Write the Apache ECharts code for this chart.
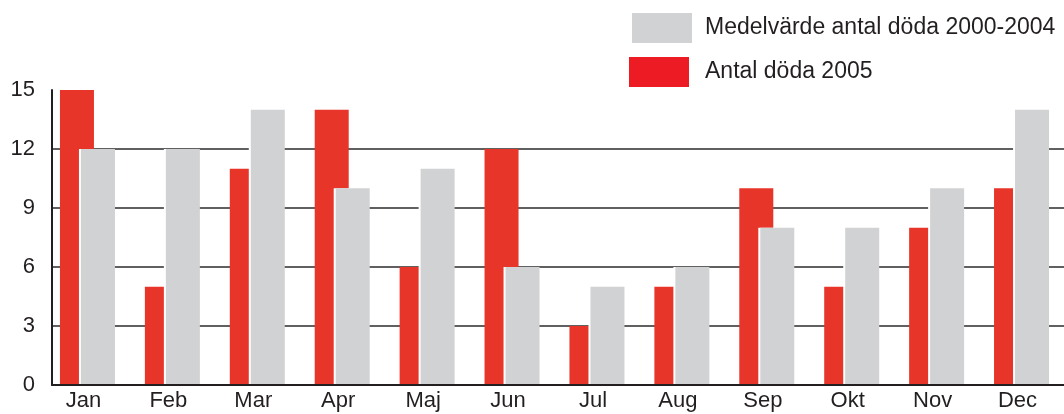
<!DOCTYPE html>
<html>
<head>
<meta charset="utf-8">
<script src="https://cdn.jsdelivr.net/npm/echarts@6/dist/echarts.min.js"></script>
<style>
  html, body { margin: 0; padding: 0; background: #fff; }
  #main { width: 1064px; height: 414px; }
</style>
</head>
<body>
<div id="main"></div>
<script>
// data
var months = ['Jan', 'Feb', 'Mar', 'Apr', 'Maj', 'Jun', 'Jul', 'Aug', 'Sep', 'Okt', 'Nov', 'Dec'];
var deaths2005 = [15, 5, 11, 14, 6, 12, 3, 5, 10, 5, 8, 10];
var mean2000to2004 = [12, 12, 14, 10, 11, 6, 5, 6, 8, 8, 10, 14];
var yTicks = [0, 3, 6, 9, 12, 15];

var nameRed = 'Antal döda 2005';
var nameGray = 'Medelvärde antal döda 2000-2004';
var ink = '#231f20';
var font = 'Liberation Sans, Arial, sans-serif';

var myChart = echarts.init(document.getElementById('main'));

var option = {
  animation: false,
  legend: [
    {
      left: 627, top: 8, orient: 'vertical',
      itemWidth: 60, itemHeight: 30, icon: 'rect',
      textStyle: { fontSize: 23, color: ink, fontFamily: font, padding: [0, 0, 0, 8] },
      data: [{ name: nameGray, itemStyle: { color: '#d1d2d4', borderWidth: 0, shadowBlur: 0, shadowOffsetX: 0, shadowColor: 'transparent' } }],
      selectedMode: false
    },
    {
      left: 624, top: 52, orient: 'vertical',
      itemWidth: 60, itemHeight: 30, icon: 'rect',
      textStyle: { fontSize: 23, color: ink, fontFamily: font, padding: [0, 0, 0, 11] },
      data: [{ name: nameRed, itemStyle: { color: '#ed1c24', borderWidth: 0 } }],
      selectedMode: false
    }
  ],
  grid: [
    // bars
    { left: 45, top: 90, width: 1019, height: 295 },
    // axis frame
    { left: 52, top: 90, width: 1019, height: 295 },
    // gridlines 3..12
    { left: 52, top: 149, width: 1019, height: 236 }
  ],
  xAxis: [
    {
      gridIndex: 0, type: 'category', data: months,
      axisLine: { show: false }, axisTick: { show: false },
      axisLabel: { fontSize: 22, color: ink, fontFamily: font, margin: 5, padding: [0, 8, 0, 0] }
    },
    {
      gridIndex: 1, type: 'category', data: months, z: 3,
      axisLine: { lineStyle: { color: ink, width: 2 } },
      axisTick: { inside: true, length: 6, lineStyle: { color: ink, width: 1.5 } },
      axisLabel: { show: false }
    },
    { gridIndex: 2, type: 'category', data: months, show: false }
  ],
  yAxis: [
    { gridIndex: 0, type: 'value', min: 0, max: 15, show: false },
    {
      gridIndex: 1, type: 'value', min: yTicks[0], max: yTicks[yTicks.length - 1], interval: 3, z: 3,
      axisLine: { show: true, lineStyle: { color: ink, width: 2 } },
      axisTick: { show: false },
      splitLine: { show: false },
      axisLabel: { fontSize: 22, color: ink, fontFamily: font, margin: 17, padding: [8, 0, 0, 0] }
    },
    {
      gridIndex: 2, type: 'value', min: 0, max: 12, interval: 3, z: 0,
      axisLine: { show: false }, axisTick: { show: false }, axisLabel: { show: false },
      splitLine: { show: true, lineStyle: { color: '#2b2b2b', width: 1.5 } }
    }
  ],
  series: [
    {
      name: nameRed, type: 'bar', xAxisIndex: 0, yAxisIndex: 0,
      barWidth: 34, barGap: '-38.24%',
      itemStyle: { color: '#e8352a' },
      data: deaths2005
    },
    {
      name: nameGray, type: 'bar', xAxisIndex: 0, yAxisIndex: 0,
      barWidth: 34,
      // white strip on the left where it overlaps the red bar
      itemStyle: { color: '#d1d2d4', shadowColor: '#fff', shadowBlur: 0, shadowOffsetX: -2 },
      data: mean2000to2004
    }
  ]
};

myChart.setOption(option);
</script>
</body>
</html>
